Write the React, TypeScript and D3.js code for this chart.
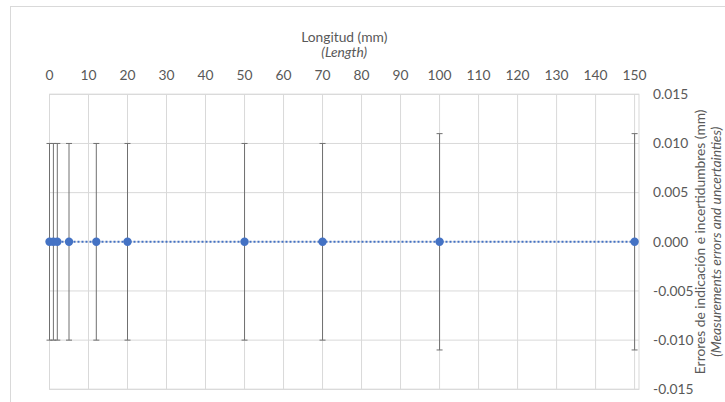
import * as React from "react"
import * as d3 from "d3"

const lengths = [0, 1, 2, 5, 12, 20, 50, 70, 100, 150]
const errors = [0, 0, 0, 0, 0, 0, 0, 0, 0, 0]
const uncertainties = [0.01, 0.01, 0.01, 0.01, 0.01, 0.01, 0.01, 0.01, 0.011, 0.011]
const xTicks = [0, 10, 20, 30, 40, 50, 60, 70, 80, 90, 100, 110, 120, 130, 140, 150]
const yTicks = [-0.015, -0.01, -0.005, 0, 0.005, 0.01, 0.015]

const width = 725
const height = 402
const plot = { left: 49.5, right: 639, top: 94.3, bottom: 389.3 }
const font = "Lato, 'Open Sans', sans-serif"
const fontSize = 13.8
const textColor = "#595959"
const gridColor = "#d9d9d9"
const blue = "#4472c4"

export default function App() {
  // x axis max sits at 150, plot area border a few px further right
  const x = d3.scaleLinear().domain([0, 150]).range([plot.left, 634.6])
  const y = d3.scaleLinear().domain([-0.015, 0.015]).range([plot.bottom, plot.top])

  const line = d3
    .line<number>()
    .x((d) => x(d))
    .y((_, i) => y(errors[i]))

  const midY = (plot.top + plot.bottom) / 2
  const midX = (plot.left + plot.right) / 2

  return (
    <svg
      width={width}
      height={height}
      viewBox={`0 0 ${width} ${height}`}
      style={{ position: "absolute", left: 0, top: 0, background: "#fff" }}
      fontFamily={font}
    >
      {/* chart area border, clipped by the window */}
      <rect x={10.5} y={6.5} width={760} height={420} fill="#fff" stroke={gridColor} />

      {/* gridlines */}
      {xTicks.map((t) => (
        <line key={"gx" + t} x1={x(t)} x2={x(t)} y1={plot.top} y2={plot.bottom} stroke={gridColor} strokeWidth={1} />
      ))}
      {yTicks.map((t) => (
        <line key={"gy" + t} x1={plot.left} x2={plot.right} y1={y(t)} y2={y(t)} stroke={gridColor} strokeWidth={1} />
      ))}
      <rect
        x={plot.left}
        y={plot.top}
        width={plot.right - plot.left}
        height={plot.bottom - plot.top}
        fill="none"
        stroke={gridColor}
      />

      {/* error bars */}
      {lengths.map((l, i) => {
        const cx = x(l)
        const y0 = y(errors[i] + uncertainties[i])
        const y1 = y(errors[i] - uncertainties[i])
        return (
          <g key={"eb" + i} stroke="#707070" strokeWidth={1}>
            <line x1={cx} x2={cx} y1={y0} y2={y1} />
            <line x1={cx - 3} x2={cx + 3} y1={y0} y2={y0} />
            <line x1={cx - 3} x2={cx + 3} y1={y1} y2={y1} />
          </g>
        )
      })}

      {/* series */}
      <path d={line(lengths) || ""} fill="none" stroke={blue} strokeWidth={2} strokeDasharray="2 2" />
      {lengths.map((l, i) => (
        <circle key={"pt" + i} cx={x(l)} cy={y(errors[i])} r={4.2} fill={blue} />
      ))}

      {/* top axis labels */}
      {xTicks.map((t) => (
        <text key={"tx" + t} x={x(t)} y={80} textAnchor="middle" fontSize={fontSize} fill={textColor}>
          {t}
        </text>
      ))}
      <text x={midX} y={41.5} textAnchor="middle" fontSize={fontSize} fill={textColor}>
        Longitud (mm)
      </text>
      <text x={midX} y={57} textAnchor="middle" fontSize={fontSize} fill={textColor} fontStyle="italic">
        (Length)
      </text>

      {/* right axis labels */}
      {yTicks.map((t) => (
        <text key={"ty" + t} x={653} y={y(t) + 4.8} fontSize={fontSize} fill={textColor}>
          {d3.format(".3f")(t).replace("−", "-")}
        </text>
      ))}
      <g transform={`translate(705,${midY}) rotate(-90)`}>
        <text x={0} y={0} textAnchor="middle" fontSize={fontSize} fill={textColor}>
          Errores de indicación e incertidumbres (mm)
        </text>
        <text x={0} y={16} textAnchor="middle" fontSize={fontSize} fill={textColor} fontStyle="italic">
          (Measurements errors and uncertainties)
        </text>
      </g>
    </svg>
  )
}
